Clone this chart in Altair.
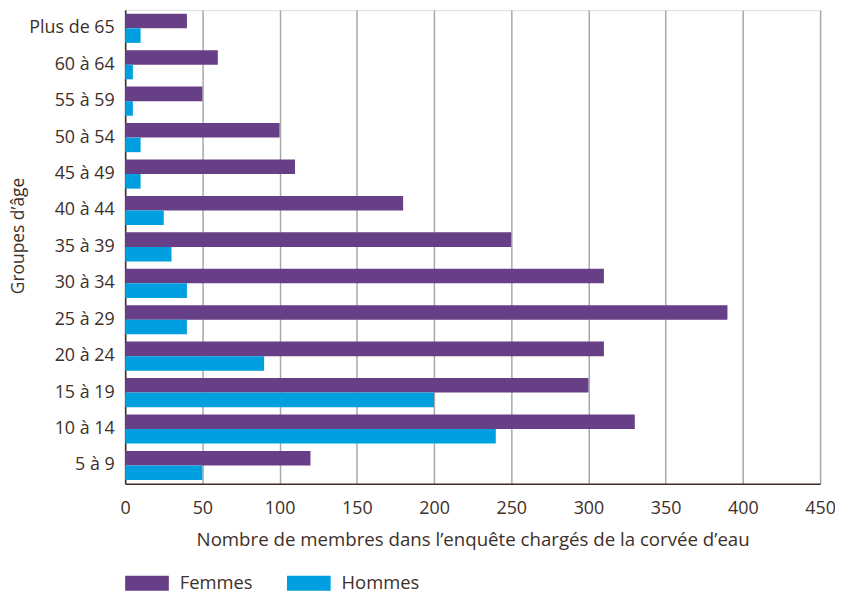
import altair as alt
import pandas as pd

groupes = ["Plus de 65", "60 à 64", "55 à 59", "50 à 54", "45 à 49", "40 à 44",
           "35 à 39", "30 à 34", "25 à 29", "20 à 24", "15 à 19", "10 à 14", "5 à 9"]
femmes = [40, 60, 50, 100, 110, 180, 250, 310, 390, 310, 300, 330, 120]
hommes = [10, 5, 5, 10, 10, 25, 30, 40, 40, 90, 200, 240, 50]
x_ticks = [0, 50, 100, 150, 200, 250, 300, 350, 400, 450]

rows = []
for g, f, h in zip(groupes, femmes, hommes):
    rows.append({"groupe": g, "sexe": "Femmes", "valeur": f})
    rows.append({"groupe": g, "sexe": "Hommes", "valeur": h})
df = pd.DataFrame(rows)

TEXT = "#3d3029"
FONT = "Open Sans"

chart = alt.Chart(df).mark_bar().encode(
    y=alt.Y("groupe:N", sort=groupes,
            scale=alt.Scale(paddingInner=0.2, paddingOuter=0.1),
            axis=alt.Axis(title="Groupes d’âge", ticks=False, grid=False,
                          domainColor=TEXT, domainWidth=1.5,
                          labelPadding=11, labelFontSize=18, labelColor=TEXT,
                          titleFontSize=17.5, titleColor=TEXT, titleFontWeight="normal",
                          titleX=-107, titleY=227, titleAngle=270,
                          titleBaseline="middle", titleAlign="center")),
    yOffset=alt.YOffset("sexe:N", sort=["Femmes", "Hommes"]),
    x=alt.X("valeur:Q", scale=alt.Scale(domain=[0, 450], nice=False),
            axis=alt.Axis(values=x_ticks, title="Nombre de membres dans l’enquête chargés de la corvée d’eau",
                          ticks=False, grid=True, gridColor="#a8a8a8", gridWidth=1.5,
                          domainColor=TEXT, domainWidth=1.5, labelFlush=False,
                          labelPadding=16, labelFontSize=18, labelColor=TEXT,
                          titleFontSize=18.8, titleColor=TEXT, titleFontWeight="normal",
                          titlePadding=13)),
    color=alt.Color("sexe:N",
                    scale=alt.Scale(domain=["Femmes", "Hommes"], range=["#673f87", "#009fdf"]),
                    legend=alt.Legend(title=None, orient="none", legendX=0, legendY=555,
                                      direction="horizontal", columns=2,
                                      symbolType="M-1,-0.34H1V0.34H-1Z", symbolSize=1936,
                                      symbolStrokeWidth=0, symbolOpacity=1,
                                      labelFontSize=18.5, labelColor=TEXT, labelOffset=11,
                                      columnPadding=34, padding=0)),
).properties(
    width=700, height=477,
    autosize=alt.AutoSizeParams(type="none"),
    padding={"left": 118, "top": 0, "right": 15, "bottom": 108},
).configure_view(stroke=None).configure(font=FONT)

chart.save("out.html", embed_options={"renderer": "svg", "actions": False})
